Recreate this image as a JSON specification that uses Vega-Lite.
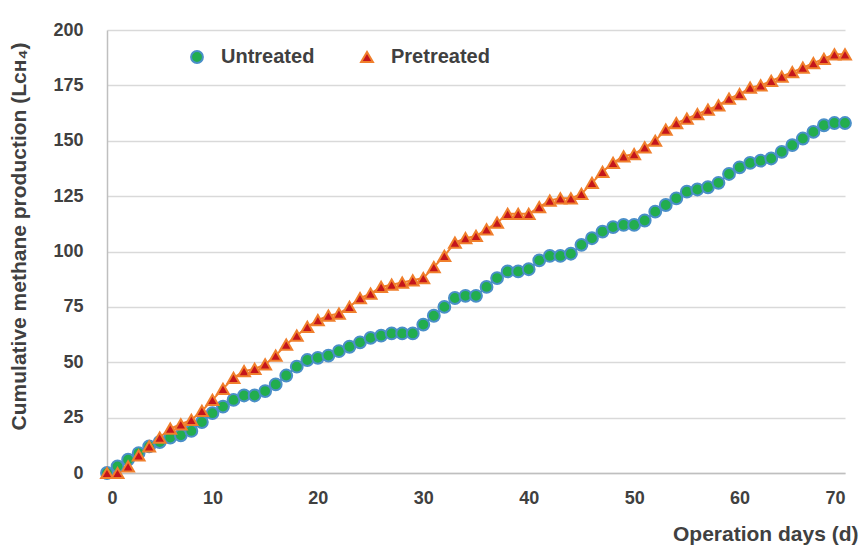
{
  "$schema": "https://vega.github.io/schema/vega-lite/v6.json",
  "autosize": "none",
  "width": 738,
  "height": 443,
  "padding": {"left": 107, "top": 30, "right": 21, "bottom": 73},
  "background": "white",
  "config": {
    "view": {"stroke": null},
    "font": "Liberation Sans",
    "legend": {"title": null, "orient": "none", "legendX": 80, "legendY": 17, "direction": "horizontal", "labelFont": "Liberation Sans", "labelFontSize": 20, "labelFontWeight": "bold", "labelColor": "#404040", "columnPadding": 42, "symbolSize": 140, "symbolStrokeWidth": 2, "labelOffset": 14}
  },
  "data": {"values": [
    {"day":0,"series":"Untreated","v":0},{"day":1,"series":"Untreated","v":3},{"day":2,"series":"Untreated","v":6},{"day":3,"series":"Untreated","v":9},{"day":4,"series":"Untreated","v":12},{"day":5,"series":"Untreated","v":14},{"day":6,"series":"Untreated","v":16},{"day":7,"series":"Untreated","v":17},{"day":8,"series":"Untreated","v":19},{"day":9,"series":"Untreated","v":23},{"day":10,"series":"Untreated","v":27},{"day":11,"series":"Untreated","v":30},{"day":12,"series":"Untreated","v":33},{"day":13,"series":"Untreated","v":35},{"day":14,"series":"Untreated","v":35},{"day":15,"series":"Untreated","v":37},{"day":16,"series":"Untreated","v":40},{"day":17,"series":"Untreated","v":44},{"day":18,"series":"Untreated","v":48},{"day":19,"series":"Untreated","v":51},{"day":20,"series":"Untreated","v":52},{"day":21,"series":"Untreated","v":53},{"day":22,"series":"Untreated","v":55},{"day":23,"series":"Untreated","v":57},{"day":24,"series":"Untreated","v":59},{"day":25,"series":"Untreated","v":61},{"day":26,"series":"Untreated","v":62},{"day":27,"series":"Untreated","v":63},{"day":28,"series":"Untreated","v":63},{"day":29,"series":"Untreated","v":63},{"day":30,"series":"Untreated","v":67},{"day":31,"series":"Untreated","v":71},{"day":32,"series":"Untreated","v":75},{"day":33,"series":"Untreated","v":79},{"day":34,"series":"Untreated","v":80},{"day":35,"series":"Untreated","v":80},{"day":36,"series":"Untreated","v":84},{"day":37,"series":"Untreated","v":88},{"day":38,"series":"Untreated","v":91},{"day":39,"series":"Untreated","v":91},{"day":40,"series":"Untreated","v":92},{"day":41,"series":"Untreated","v":96},{"day":42,"series":"Untreated","v":98},{"day":43,"series":"Untreated","v":98},{"day":44,"series":"Untreated","v":99},{"day":45,"series":"Untreated","v":103},{"day":46,"series":"Untreated","v":106},{"day":47,"series":"Untreated","v":109},{"day":48,"series":"Untreated","v":111},{"day":49,"series":"Untreated","v":112},{"day":50,"series":"Untreated","v":112},{"day":51,"series":"Untreated","v":114},{"day":52,"series":"Untreated","v":118},{"day":53,"series":"Untreated","v":121},{"day":54,"series":"Untreated","v":124},{"day":55,"series":"Untreated","v":127},{"day":56,"series":"Untreated","v":128},{"day":57,"series":"Untreated","v":129},{"day":58,"series":"Untreated","v":131},{"day":59,"series":"Untreated","v":135},{"day":60,"series":"Untreated","v":138},{"day":61,"series":"Untreated","v":140},{"day":62,"series":"Untreated","v":141},{"day":63,"series":"Untreated","v":142},{"day":64,"series":"Untreated","v":145},{"day":65,"series":"Untreated","v":148},{"day":66,"series":"Untreated","v":151},{"day":67,"series":"Untreated","v":154},{"day":68,"series":"Untreated","v":157},{"day":69,"series":"Untreated","v":158},{"day":70,"series":"Untreated","v":158},
    {"day":0,"series":"Pretreated","v":0},{"day":1,"series":"Pretreated","v":0},{"day":2,"series":"Pretreated","v":3},{"day":3,"series":"Pretreated","v":8},{"day":4,"series":"Pretreated","v":12},{"day":5,"series":"Pretreated","v":16},{"day":6,"series":"Pretreated","v":20},{"day":7,"series":"Pretreated","v":22},{"day":8,"series":"Pretreated","v":24},{"day":9,"series":"Pretreated","v":28},{"day":10,"series":"Pretreated","v":33},{"day":11,"series":"Pretreated","v":38},{"day":12,"series":"Pretreated","v":43},{"day":13,"series":"Pretreated","v":46},{"day":14,"series":"Pretreated","v":47},{"day":15,"series":"Pretreated","v":49},{"day":16,"series":"Pretreated","v":53},{"day":17,"series":"Pretreated","v":58},{"day":18,"series":"Pretreated","v":62},{"day":19,"series":"Pretreated","v":66},{"day":20,"series":"Pretreated","v":69},{"day":21,"series":"Pretreated","v":71},{"day":22,"series":"Pretreated","v":72},{"day":23,"series":"Pretreated","v":75},{"day":24,"series":"Pretreated","v":79},{"day":25,"series":"Pretreated","v":81},{"day":26,"series":"Pretreated","v":84},{"day":27,"series":"Pretreated","v":85},{"day":28,"series":"Pretreated","v":86},{"day":29,"series":"Pretreated","v":87},{"day":30,"series":"Pretreated","v":88},{"day":31,"series":"Pretreated","v":93},{"day":32,"series":"Pretreated","v":98},{"day":33,"series":"Pretreated","v":104},{"day":34,"series":"Pretreated","v":106},{"day":35,"series":"Pretreated","v":107},{"day":36,"series":"Pretreated","v":110},{"day":37,"series":"Pretreated","v":113},{"day":38,"series":"Pretreated","v":117},{"day":39,"series":"Pretreated","v":117},{"day":40,"series":"Pretreated","v":117},{"day":41,"series":"Pretreated","v":120},{"day":42,"series":"Pretreated","v":123},{"day":43,"series":"Pretreated","v":124},{"day":44,"series":"Pretreated","v":124},{"day":45,"series":"Pretreated","v":126},{"day":46,"series":"Pretreated","v":131},{"day":47,"series":"Pretreated","v":136},{"day":48,"series":"Pretreated","v":140},{"day":49,"series":"Pretreated","v":143},{"day":50,"series":"Pretreated","v":144},{"day":51,"series":"Pretreated","v":147},{"day":52,"series":"Pretreated","v":150},{"day":53,"series":"Pretreated","v":155},{"day":54,"series":"Pretreated","v":158},{"day":55,"series":"Pretreated","v":160},{"day":56,"series":"Pretreated","v":162},{"day":57,"series":"Pretreated","v":164},{"day":58,"series":"Pretreated","v":166},{"day":59,"series":"Pretreated","v":169},{"day":60,"series":"Pretreated","v":171},{"day":61,"series":"Pretreated","v":174},{"day":62,"series":"Pretreated","v":175},{"day":63,"series":"Pretreated","v":177},{"day":64,"series":"Pretreated","v":179},{"day":65,"series":"Pretreated","v":181},{"day":66,"series":"Pretreated","v":183},{"day":67,"series":"Pretreated","v":185},{"day":68,"series":"Pretreated","v":187},{"day":69,"series":"Pretreated","v":189},{"day":70,"series":"Pretreated","v":189}
  ]},
  "encoding": {
    "x": {"field": "day", "type": "quantitative", "scale": {"domain": [0, 70], "nice": false},
      "axis": {"values": [0,10,20,30,40,50,60,70], "title": "Operation days (d)", "grid": false, "ticks": false, "domainColor": "#bfbfbf", "domainWidth": 1.5,
        "labelFont": "Liberation Sans", "labelFontSize": 18, "labelFontWeight": "bold", "labelColor": "#404040", "labelPadding": 16,
        "titleFont": "Liberation Sans", "titleFontSize": 21, "titleFontWeight": "bold", "titleColor": "#404040", "titleX": 751, "titleY": 50, "titleAlign": "right", "titleBaseline": "top", "titleAnchor": "end"}},
    "y": {"field": "v", "type": "quantitative", "scale": {"domain": [0, 200], "nice": false},
      "axis": {"values": [0,25,50,75,100,125,150,175,200], "title": "Cumulative methane production (Lᴄʜ₄)", "grid": true, "gridColor": "#d9d9d9", "gridWidth": 1.5, "ticks": false, "domainColor": "#bfbfbf", "domainWidth": 1.5,
        "labelFont": "Liberation Sans", "labelFontSize": 18, "labelFontWeight": "bold", "labelColor": "#404040", "labelPadding": 24,
        "titleFont": "Liberation Sans", "titleFontSize": 21, "titleFontWeight": "bold", "titleColor": "#404040", "titleX": -88, "titleY": 206, "titleAngle": -90, "titleAlign": "center", "titleBaseline": "middle"}}
  },
  "layer": [
    {
      "mark": {"type": "line", "strokeWidth": 2},
      "encoding": {
        "stroke": {"field": "series", "type": "nominal", "scale": {"domain": ["Untreated", "Pretreated"], "range": ["#4a8fc8", "#f07f2c"]}}
      }
    },
    {
      "mark": {"type": "point", "filled": true, "strokeWidth": 2, "opacity": 1, "size": 140},
      "encoding": {
        "fill": {"field": "series", "type": "nominal", "scale": {"domain": ["Untreated", "Pretreated"], "range": ["#22ad4e", "#c4151c"]}},
        "shape": {"field": "series", "type": "nominal", "scale": {"domain": ["Untreated", "Pretreated"], "range": ["circle", "triangle-up"]}},
        "stroke": {"field": "series", "type": "nominal", "scale": {"domain": ["Untreated", "Pretreated"], "range": ["#4a8fc8", "#f07f2c"]}}
      }
    }
  ]
}
